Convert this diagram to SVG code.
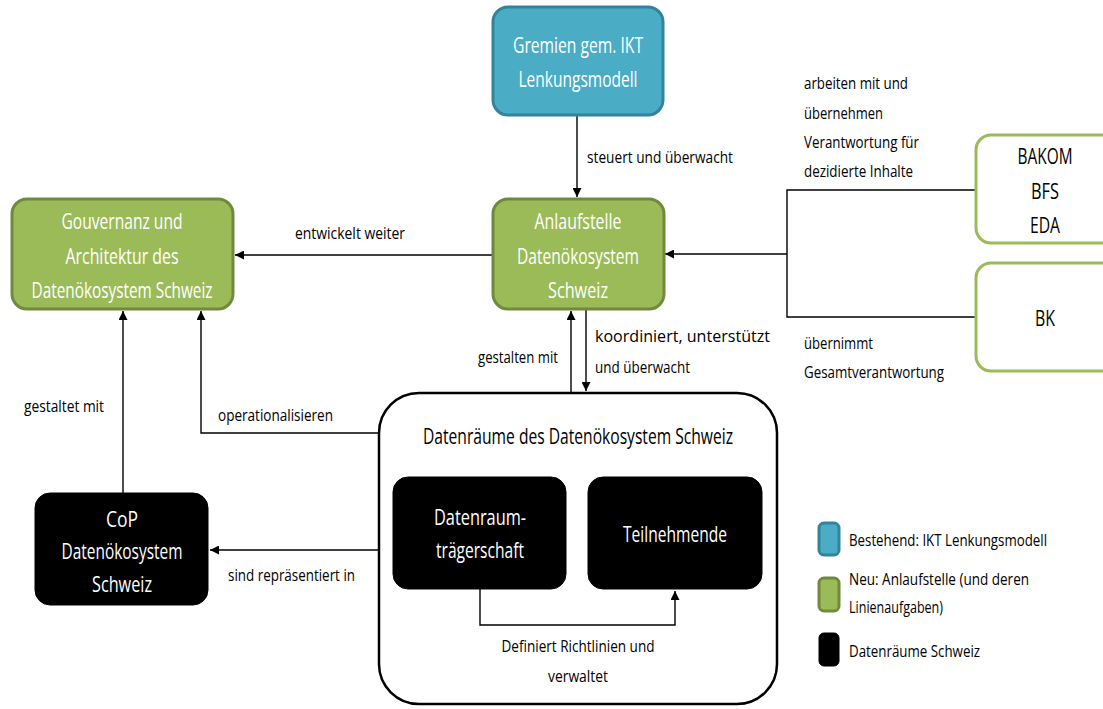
<svg xmlns="http://www.w3.org/2000/svg" width="1103" height="709" viewBox="0 0 1103 709">
  <style>
    text { font-family: "Open Sans", "Liberation Sans", sans-serif; }
    .nt { font-size: 22px; fill: #ffffff; text-anchor: middle; }
    .nk { font-size: 22px; fill: #000000; text-anchor: middle; }
    .lb { font-size: 17px; fill: #000000; }
    .lbm { font-size: 17px; fill: #000000; text-anchor: middle; }
    .blue { fill: #4BACC6; stroke: #31849B; stroke-width: 3; }
    .green { fill: #9BBB59; stroke: #71893F; stroke-width: 3; }
    .outl { fill: #ffffff; stroke: #9BBB59; stroke-width: 3; }
    .dark { fill: #000000; stroke: #000000; stroke-width: 1; }
    .edge { fill: none; stroke: #000000; stroke-width: 1.4; }
  </style>
  <defs>
    <marker id="arrow" viewBox="0 0 10 10" refX="10" refY="5" markerWidth="10" markerHeight="9" markerUnits="userSpaceOnUse" orient="auto">
      <path d="M0,0 L10,5 L0,10 z" fill="#000000"/>
    </marker>
  </defs>

  <rect width="1103" height="709" fill="#ffffff"/>

  <!-- Datenräume container (drawn first so the inner connector sits on top) -->
  <g id="datenraeume">
    <rect x="379" y="393" width="398" height="311" rx="40" fill="#ffffff" stroke="#000000" stroke-width="2.5"/>
    <text class="nk" x="578" y="444" textLength="310" lengthAdjust="spacingAndGlyphs">Datenräume des Datenökosystem Schweiz</text>
  </g>

  <!-- connectors -->
  <g id="connectors">
    <line class="edge" x1="577" y1="116" x2="577" y2="197" marker-end="url(#arrow)"/>
    <line class="edge" x1="492" y1="255" x2="235" y2="255" marker-end="url(#arrow)"/>
    <polyline class="edge" points="975,190 787,190 787,317 975,317"/>
    <line class="edge" x1="787" y1="254" x2="665" y2="254" marker-end="url(#arrow)"/>
    <line class="edge" x1="571" y1="392" x2="571" y2="311" marker-end="url(#arrow)"/>
    <line class="edge" x1="586" y1="310" x2="586" y2="391" marker-end="url(#arrow)"/>
    <polyline class="edge" points="378,433 201,433 201,311" marker-end="url(#arrow)"/>
    <line class="edge" x1="123" y1="493" x2="123" y2="311" marker-end="url(#arrow)"/>
    <line class="edge" x1="378" y1="550" x2="210" y2="550" marker-end="url(#arrow)"/>
    <polyline class="edge" points="480,589 480,625 675,625 675,591" marker-end="url(#arrow)"/>

    <text class="lb" x="587" y="163" textLength="146" lengthAdjust="spacingAndGlyphs">steuert und überwacht</text>
    <text class="lb" x="295" y="239" textLength="110" lengthAdjust="spacingAndGlyphs">entwickelt weiter</text>
    <text class="lb" x="804" y="89" textLength="104" lengthAdjust="spacingAndGlyphs">arbeiten mit und</text>
    <text class="lb" x="804" y="119" textLength="79" lengthAdjust="spacingAndGlyphs">übernehmen</text>
    <text class="lb" x="804" y="148" textLength="115" lengthAdjust="spacingAndGlyphs">Verantwortung für</text>
    <text class="lb" x="804" y="177" textLength="109" lengthAdjust="spacingAndGlyphs">dezidierte Inhalte</text>
    <text class="lb" x="804" y="349" textLength="69" lengthAdjust="spacingAndGlyphs">übernimmt</text>
    <text class="lb" x="804" y="378" textLength="140" lengthAdjust="spacingAndGlyphs">Gesamtverantwortung</text>
    <text class="lb" x="478" y="363" textLength="80" lengthAdjust="spacingAndGlyphs">gestalten mit</text>
    <text class="lb" x="595" y="342" textLength="175" lengthAdjust="spacingAndGlyphs">koordiniert, unterstützt</text>
    <text class="lb" x="595" y="373" textLength="95" lengthAdjust="spacingAndGlyphs">und überwacht</text>
    <text class="lb" x="24" y="412" textLength="80" lengthAdjust="spacingAndGlyphs">gestaltet mit</text>
    <text class="lb" x="218" y="421" textLength="115" lengthAdjust="spacingAndGlyphs">operationalisieren</text>
    <text class="lb" x="228" y="581" textLength="127" lengthAdjust="spacingAndGlyphs">sind repräsentiert in</text>
    <text class="lbm" x="578" y="652" textLength="153" lengthAdjust="spacingAndGlyphs">Definiert Richtlinien und</text>
    <text class="lbm" x="578" y="682" textLength="60" lengthAdjust="spacingAndGlyphs">verwaltet</text>
  </g>

  <!-- Gremien gem. IKT Lenkungsmodell -->
  <g id="gremien">
    <rect class="blue" x="493" y="7" width="170" height="108" rx="15"/>
    <text class="nt" x="578" y="53" textLength="130" lengthAdjust="spacingAndGlyphs">Gremien gem. IKT</text>
    <text class="nt" x="578" y="87" textLength="119" lengthAdjust="spacingAndGlyphs">Lenkungsmodell</text>
  </g>

  <!-- Anlaufstelle -->
  <g id="anlaufstelle">
    <rect class="green" x="493" y="199" width="171" height="110" rx="15"/>
    <text class="nt" x="578" y="229" textLength="87" lengthAdjust="spacingAndGlyphs">Anlaufstelle</text>
    <text class="nt" x="578" y="264" textLength="122" lengthAdjust="spacingAndGlyphs">Datenökosystem</text>
    <text class="nt" x="578" y="298" textLength="60" lengthAdjust="spacingAndGlyphs">Schweiz</text>
  </g>

  <!-- Gouvernanz und Architektur -->
  <g id="gouvernanz">
    <rect class="green" x="12" y="199" width="221" height="110" rx="15"/>
    <text class="nt" x="122" y="229" textLength="121" lengthAdjust="spacingAndGlyphs">Gouvernanz und</text>
    <text class="nt" x="122" y="264" textLength="113" lengthAdjust="spacingAndGlyphs">Architektur des</text>
    <text class="nt" x="122" y="298" textLength="181" lengthAdjust="spacingAndGlyphs">Datenökosystem Schweiz</text>
  </g>

  <!-- BAKOM / BFS / EDA -->
  <g id="bakom">
    <rect class="outl" x="976" y="135" width="150" height="108" rx="15"/>
    <text class="nk" x="1045" y="164" textLength="55" lengthAdjust="spacingAndGlyphs">BAKOM</text>
    <text class="nk" x="1045" y="199" textLength="28" lengthAdjust="spacingAndGlyphs">BFS</text>
    <text class="nk" x="1045" y="233" textLength="30" lengthAdjust="spacingAndGlyphs">EDA</text>
  </g>

  <!-- BK -->
  <g id="bk">
    <rect class="outl" x="976" y="263" width="150" height="108" rx="15"/>
    <text class="nk" x="1045" y="326" textLength="20" lengthAdjust="spacingAndGlyphs">BK</text>
  </g>

  <g id="traegerschaft">
    <rect class="dark" x="393" y="477" width="173" height="112" rx="15"/>
    <text class="nt" x="480" y="525" textLength="92" lengthAdjust="spacingAndGlyphs">Datenraum-</text>
    <text class="nt" x="480" y="558" textLength="88" lengthAdjust="spacingAndGlyphs">trägerschaft</text>
  </g>

  <g id="teilnehmende">
    <rect class="dark" x="588" y="477" width="174" height="112" rx="15"/>
    <text class="nt" x="675" y="542" textLength="104" lengthAdjust="spacingAndGlyphs">Teilnehmende</text>
  </g>

  <!-- CoP -->
  <g id="cop">
    <rect class="dark" x="35" y="493" width="173" height="112" rx="15"/>
    <text class="nt" x="122" y="527" textLength="32" lengthAdjust="spacingAndGlyphs">CoP</text>
    <text class="nt" x="122" y="559" textLength="121" lengthAdjust="spacingAndGlyphs">Datenökosystem</text>
    <text class="nt" x="122" y="592" textLength="60" lengthAdjust="spacingAndGlyphs">Schweiz</text>
  </g>

  <!-- legend -->
  <g id="legend">
    <rect class="blue" x="819" y="523" width="20" height="32" rx="5"/>
    <rect class="green" x="819" y="578" width="20" height="33" rx="5"/>
    <rect class="dark" x="819" y="633" width="20" height="33" rx="5"/>
    <text class="lb" x="849" y="546" textLength="198" lengthAdjust="spacingAndGlyphs">Bestehend: IKT Lenkungsmodell</text>
    <text class="lb" x="849" y="585" textLength="180" lengthAdjust="spacingAndGlyphs">Neu: Anlaufstelle (und deren</text>
    <text class="lb" x="849" y="613" textLength="94" lengthAdjust="spacingAndGlyphs">Linienaufgaben)</text>
    <text class="lb" x="849" y="657" textLength="131" lengthAdjust="spacingAndGlyphs">Datenräume Schweiz</text>
  </g>
</svg>
